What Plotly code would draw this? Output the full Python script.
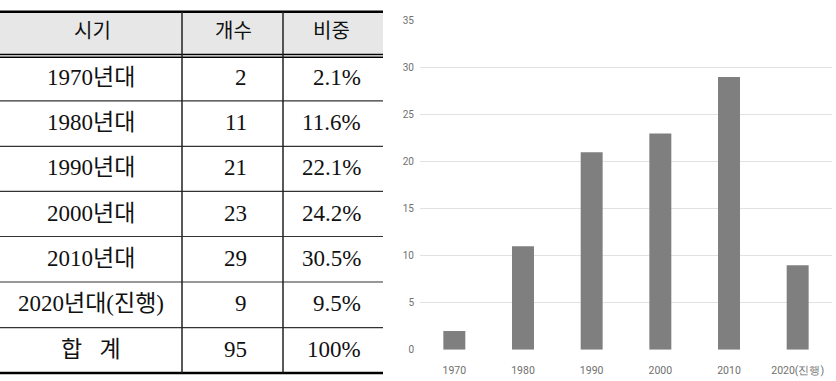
import plotly.graph_objects as go

# ---- data ----
headers = ["시기", "개수", "비중"]
periods = ["1970년대", "1980년대", "1990년대", "2000년대", "2010년대", "2020년대(진행)"]
counts = [2, 11, 21, 23, 29, 9]
total_label = "합   계"
bar_labels = ["1970", "1980", "1990", "2000", "2010", "2020(진행)"]

total = sum(counts)
shares = [f"{c / total * 100:.1f}%" for c in counts]
total_share = "100%"

# ---- canvas ----
W, H = 836, 381


def fx(px):
    return px / W


def fy(py):
    return 1 - py / H


fig = go.Figure()

fig.add_trace(go.Bar(
    x=bar_labels, y=counts,
    marker=dict(color="#7f7f7f", line=dict(width=0)),
    hoverinfo="x+y",
))

# ---- table geometry (pixels) ----
tx0, tx1 = 0, 383
col_a, col_b = 182, 283
top_y = 6
head_y1, head_y2 = 50, 53
row_lines = [98, 145, 191.5, 238, 285, 332]
bottom_y = 379
row_centers = [73.5 + 46.8 * i for i in range(7)]
head_center = 24.5

shapes = []
# header background
shapes.append(dict(type="rect", xref="paper", yref="paper",
                   x0=fx(tx0), x1=fx(tx1), y0=fy(head_y1), y1=fy(top_y),
                   fillcolor="#e7e7e7", line=dict(width=0), layer="below"))


def hline(y, w, color="#000000"):
    shapes.append(dict(type="line", xref="paper", yref="paper",
                       x0=fx(tx0), x1=fx(tx1), y0=fy(y), y1=fy(y),
                       line=dict(color=color, width=w)))


hline(top_y, 2.5)
hline(head_y1, 1.5)
hline(head_y2, 1.5)
for ry in row_lines:
    hline(ry, 1.2, "#333333")
hline(bottom_y, 2.5)

for cx in (col_a, col_b):
    shapes.append(dict(type="line", xref="paper", yref="paper",
                       x0=fx(cx), x1=fx(cx), y0=fy(bottom_y), y1=fy(top_y),
                       line=dict(color="#222222", width=1.5)))

annotations = []
body_font = dict(family="Liberation Serif, Noto Sans CJK KR", size=23, color="#111111")
head_font = dict(family="Noto Sans CJK KR", size=20, color="#111111")


def cell(text, x, y, anchor, font):
    annotations.append(dict(text=text, xref="paper", yref="paper",
                            x=fx(x), y=fy(y), xanchor=anchor, yanchor="middle",
                            showarrow=False, font=font))


for txt, hx in zip(headers, [92, 233, 331]):
    cell(txt, hx, head_center, "center", head_font)

rows = list(zip(periods, counts, shares)) + [(total_label, total, total_share)]
for (label, cnt, shr), cy in zip(rows, row_centers):
    cell(label, 91, cy, "center", body_font)
    cell(str(cnt), 249, cy, "right", body_font)
    cell(shr, 363, cy, "right", body_font)

xtick_font = dict(family="Roboto, sans-serif", size=10.5, color="#6f6f6f")
ytick_font = dict(family="Roboto, sans-serif", size=10, color="#6f6f6f")

fig.update_layout(
    width=W, height=H,
    margin=dict(l=0, r=0, t=0, b=0),
    paper_bgcolor="white", plot_bgcolor="white",
    showlegend=False,
    bargap=0.68,
    shapes=shapes,
    annotations=annotations,
    xaxis=dict(domain=[fx(420), fx(832)], showgrid=False, zeroline=False,
               showline=False, ticks="", tickfont=xtick_font,
               ticklabelstandoff=13,
               type="category", fixedrange=True),
    yaxis=dict(domain=[fy(355), fy(15)], range=[0, 35], dtick=5,
               showgrid=True, gridcolor="#e2e2e2", gridwidth=1,
               zeroline=False, showline=False, ticks="",
               ticklabelstandoff=5,
               tickfont=ytick_font, fixedrange=True),
)

fig.write_html("out.html")
